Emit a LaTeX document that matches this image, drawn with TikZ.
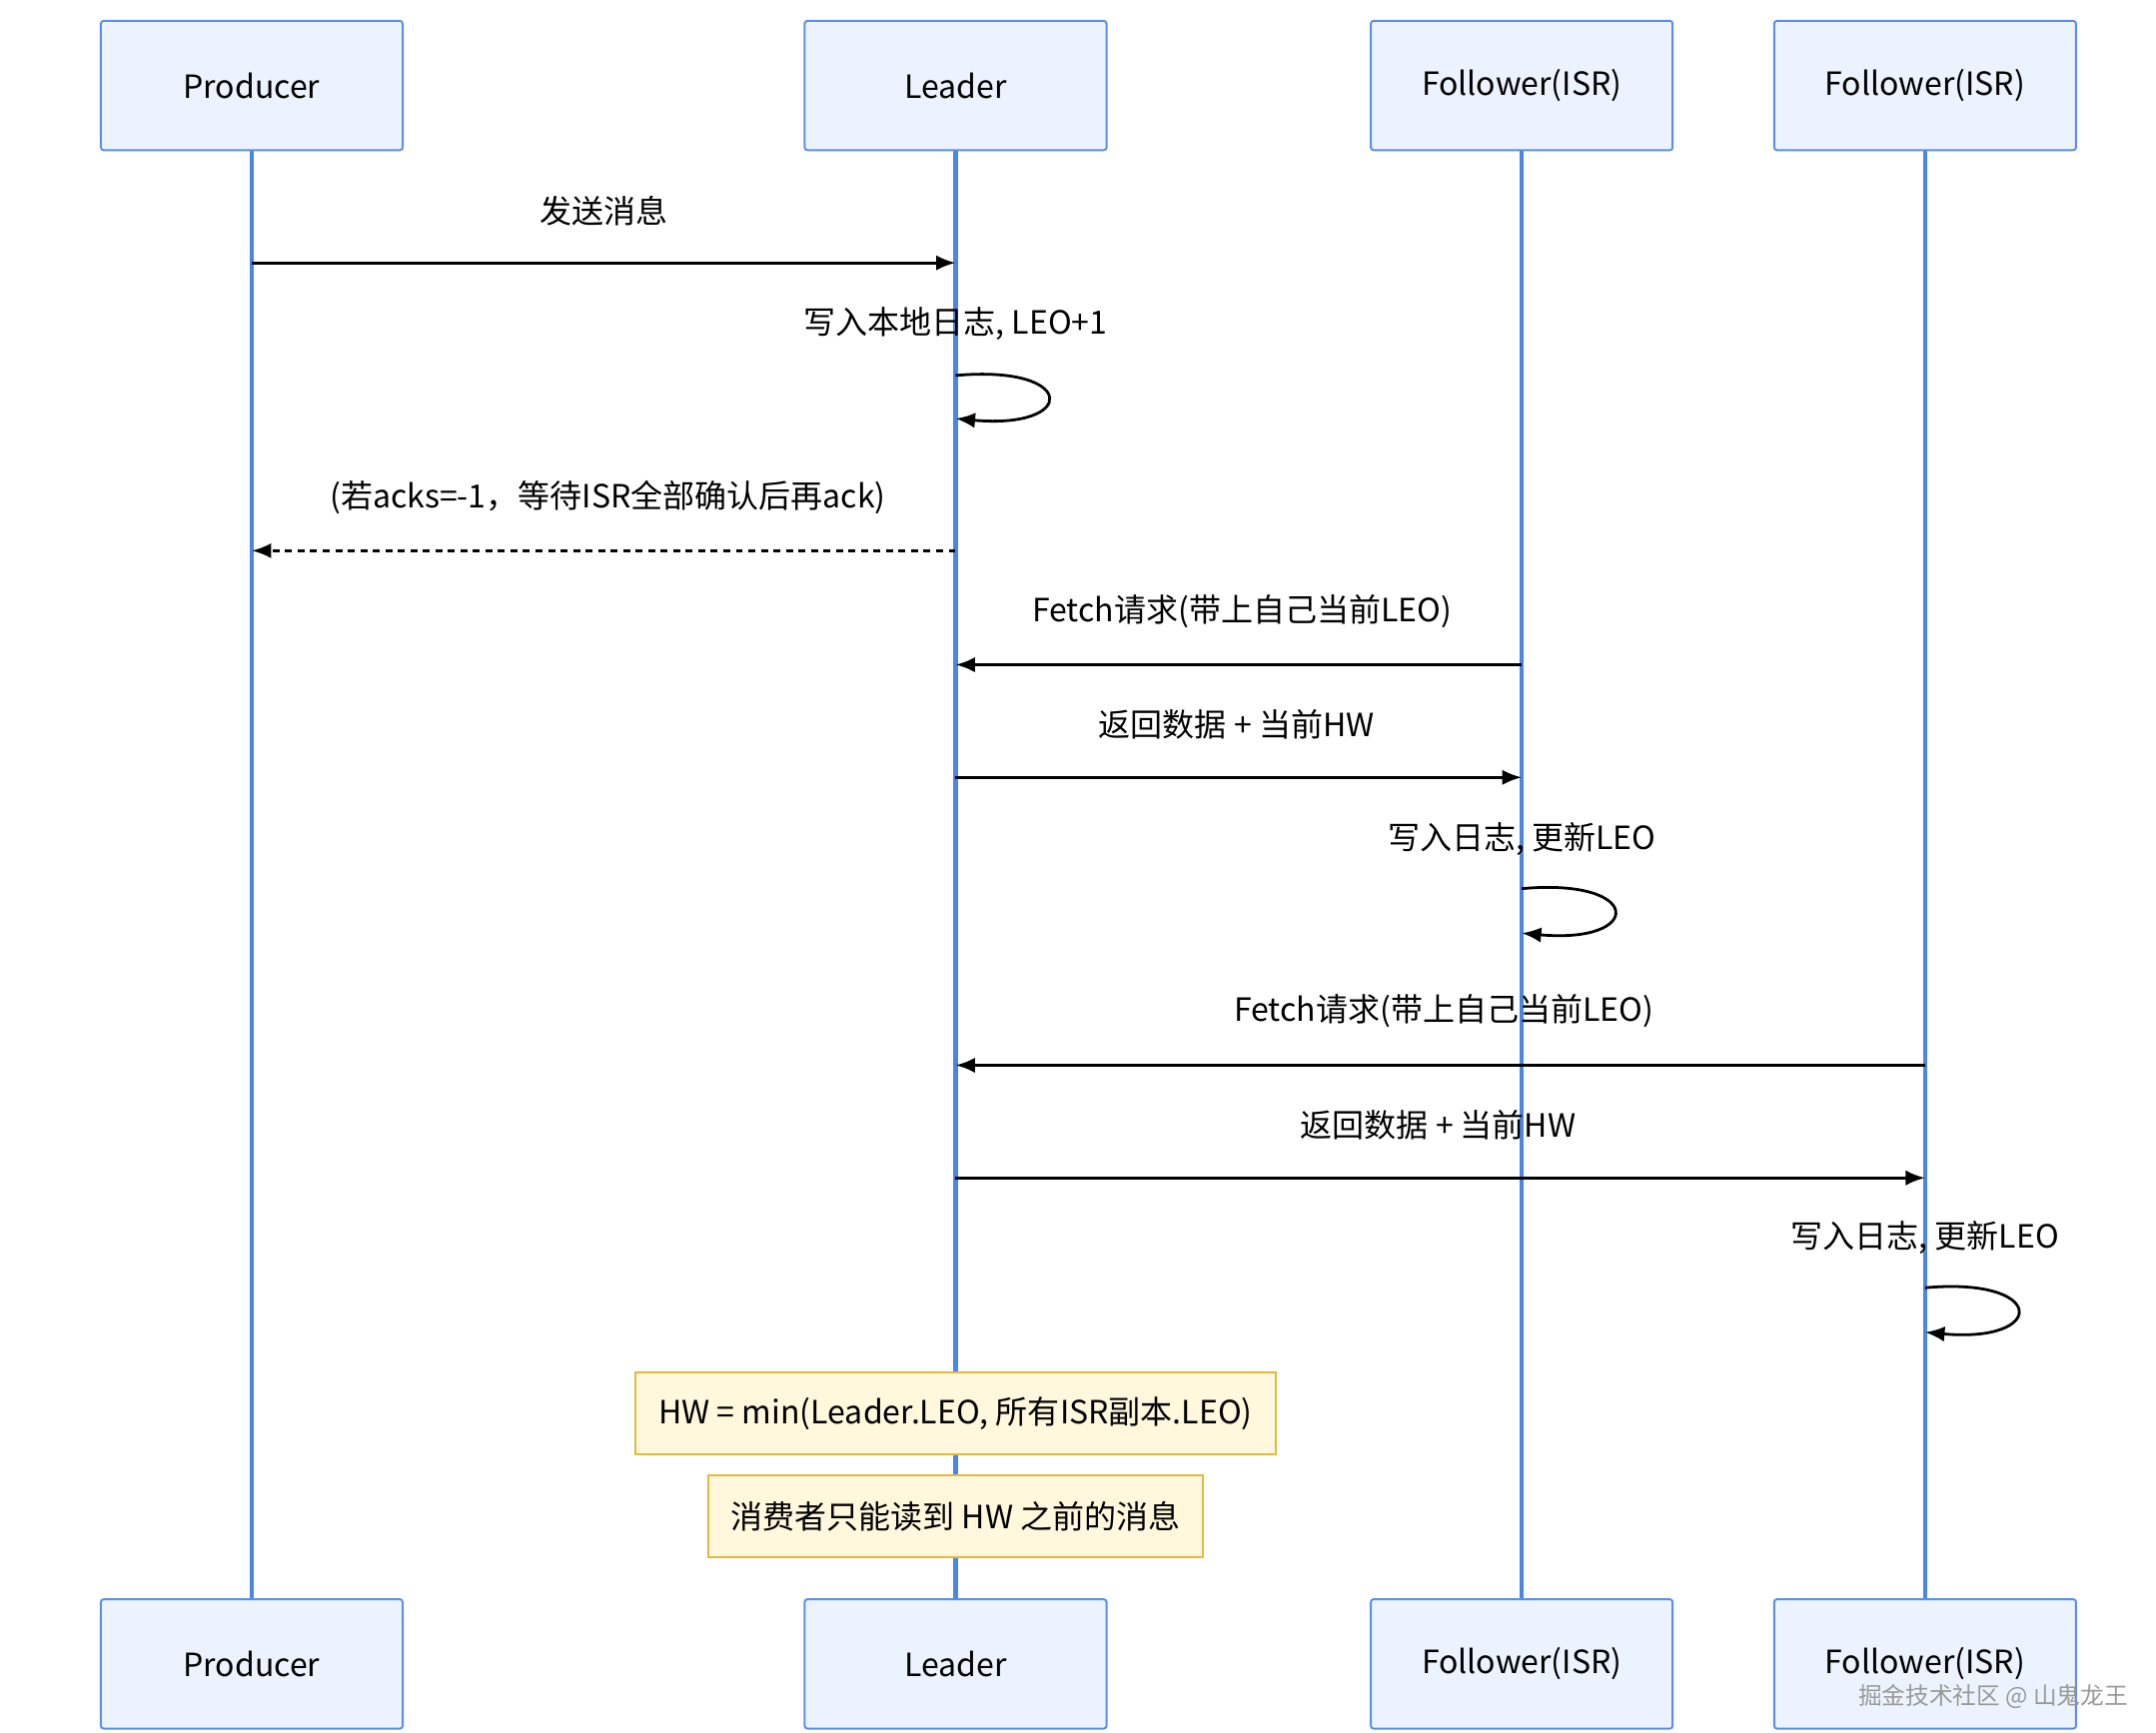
\documentclass[tikz,border=0pt]{standalone}
\usepackage{fontspec}
\setmainfont{Noto Sans CJK SC}
\usetikzlibrary{arrows.meta,positioning}
\definecolor{actfill}{HTML}{ECF3FE}
\definecolor{actline}{HTML}{5A8FE6}
\definecolor{lifeline}{HTML}{4A86E8}
\definecolor{notefill}{HTML}{FFF8DC}
\definecolor{noteline}{HTML}{E6B93C}
\tikzset{
	actor/.style={draw=actline, fill=actfill, line width=1.4pt, minimum width=217pt, minimum height=93pt, rounded corners=2pt, font=\fontsize{23}{27}\selectfont},
	note/.style={draw=noteline, fill=notefill, line width=1.4pt, minimum height=59pt, inner xsep=9pt, font=\fontsize{23}{27}\selectfont},
	msg/.style={-{Latex[length=14pt,width=11pt]}, line width=2pt},
	lbl/.style={font=\fontsize{23}{27}\selectfont},
	life/.style={draw=lifeline, line width=3pt}
}
\begin{document}
\begin{tikzpicture}[x=1pt, y=-1pt]
	\useasboundingbox (0,0) rectangle (1550,1246);
	% lifelines
	\foreach \n/\x in {p/181, l/687, fa/1094, fb/1384} {
		\coordinate (\n top) at (\x,108);
		\coordinate (\n bot) at (\x,1150);
		\draw[life] (\n top) -- (\n bot);
	}
	% actors
	\node[actor] (p1) at (181,61.5) {Producer};
	\node[actor] (l1) at (687,61.5) {Leader};
	\node[actor] (fa1) at (1094,61.5) {Follower(ISR)};
	\node[actor] (fb1) at (1384,61.5) {Follower(ISR)};
	\node[actor] (p2) at (181,1196.5) {Producer};
	\node[actor] (l2) at (687,1196.5) {Leader};
	\node[actor] (fa2) at (1094,1196.5) {Follower(ISR)};
	\node[actor] (fb2) at (1384,1196.5) {Follower(ISR)};
	
	% messages
	\coordinate (m1a) at (181,189); \coordinate (m1b) at (687,189);
	\node[lbl] at (434,152) {发送消息};
	\draw[msg] (m1a) -- (m1b);
	
	\coordinate (s1a) at (687,270); \coordinate (s1b) at (687,301);
	\node[lbl] at (687,233) {写入本地日志, LEO+1};
	\draw[msg] (s1a) .. controls (775,262) and (775,309) .. (s1b);
	
	\coordinate (m2a) at (687,396); \coordinate (m2b) at (181,396);
	\node[lbl] at (437,358) {(若acks=-1，等待ISR全部确认后再ack)};
	\draw[msg, dash pattern=on 5pt off 4pt] (m2a) -- (m2b);
	
	\coordinate (m3a) at (1094,478); \coordinate (m3b) at (687,478);
	\node[lbl] at (893,440) {Fetch请求(带上自己当前LEO)};
	\draw[msg] (m3a) -- (m3b);
	
	\coordinate (m4a) at (687,559); \coordinate (m4b) at (1094,559);
	\node[lbl] at (889,521) {返回数据 + 当前HW};
	\draw[msg] (m4a) -- (m4b);
	
	\coordinate (s2a) at (1094,639); \coordinate (s2b) at (1094,671);
	\node[lbl] at (1094,603) {写入日志, 更新LEO};
	\draw[msg] (s2a) .. controls (1182,631) and (1182,679) .. (s2b);
	
	\coordinate (m5a) at (1384,766); \coordinate (m5b) at (687,766);
	\node[lbl] at (1038,727) {Fetch请求(带上自己当前LEO)};
	\draw[msg] (m5a) -- (m5b);
	
	\coordinate (m6a) at (687,847); \coordinate (m6b) at (1384,847);
	\node[lbl] at (1034,809) {返回数据 + 当前HW};
	\draw[msg] (m6a) -- (m6b);
	
	\coordinate (s3a) at (1384,926); \coordinate (s3b) at (1384,958);
	\node[lbl] at (1384,890) {写入日志, 更新LEO};
	\draw[msg] (s3a) .. controls (1472,918) and (1472,966) .. (s3b);
	
	% notes
	\node[note, minimum width=460pt] (n1) at (687,1016.5) {HW = min(Leader.LEO, 所有ISR副本.LEO)};
	\node[note, minimum width=356pt] (n2) at (687,1090.5) {消费者只能读到 HW 之前的消息};
	
	\node[font=\fontsize{17}{20}\selectfont, text=gray!80] (wm) at (1433,1220) {掘金技术社区 @ 山鬼龙王};
\end{tikzpicture}
\end{document}
